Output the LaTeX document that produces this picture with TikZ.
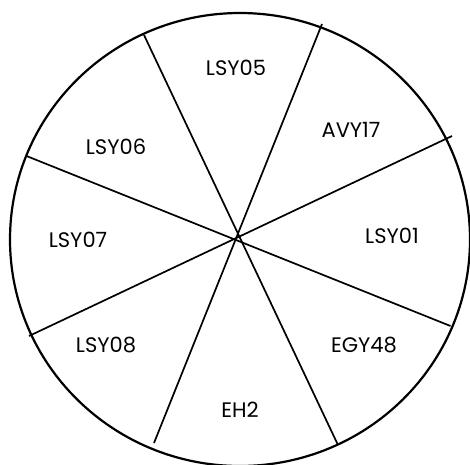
\documentclass[tikz,border=0pt]{standalone}
\usepackage{fontspec}
\setmainfont{Poppins}
\begin{document}
\begin{tikzpicture}[x=1pt,y=-1pt,
  rim/.style={line width=2.2pt},
  spoke/.style={line width=1.7pt},
  lbl/.style={font=\fontsize{21}{24}\selectfont, inner sep=0pt}]
  \useasboundingbox (0,0) rectangle (470,464);
  \clip (0,0) rectangle (470,464);
  \fill[white] (0,0) rectangle (470,464);
  % outer rim
  \draw[rim] (240,239.5) ellipse [x radius=230, y radius=226.5];
  % spoke end points
  \coordinate (a1) at (144,35);    \coordinate (a2) at (338,445);
  \coordinate (b1) at (322,24);    \coordinate (b2) at (154,443);
  \coordinate (c1) at (452,136);   \coordinate (c2) at (29,336);
  \coordinate (d1) at (26.5,156);  \coordinate (d2) at (450.5,326);
  \draw[spoke] (a1) -- (a2);
  \draw[spoke] (b1) -- (b2);
  \draw[spoke] (c1) -- (c2);
  \draw[spoke] (d1) -- (d2);
  % sector labels
  \node[lbl] (s05) at (236,68)  {LSY05};
  \node[lbl] (s17) at (351,130) {AVY17};
  \node[lbl] (s01) at (392,236) {LSY01};
  \node[lbl] (s48) at (364,345) {EGY48};
  \node[lbl] (seh) at (240,410) {EH2};
  \node[lbl] (s08) at (106,345) {LSY08};
  \node[lbl] (s07) at (78,240)  {LSY07};
  \node[lbl] (s06) at (116,147) {LSY06};
\end{tikzpicture}
\end{document}
